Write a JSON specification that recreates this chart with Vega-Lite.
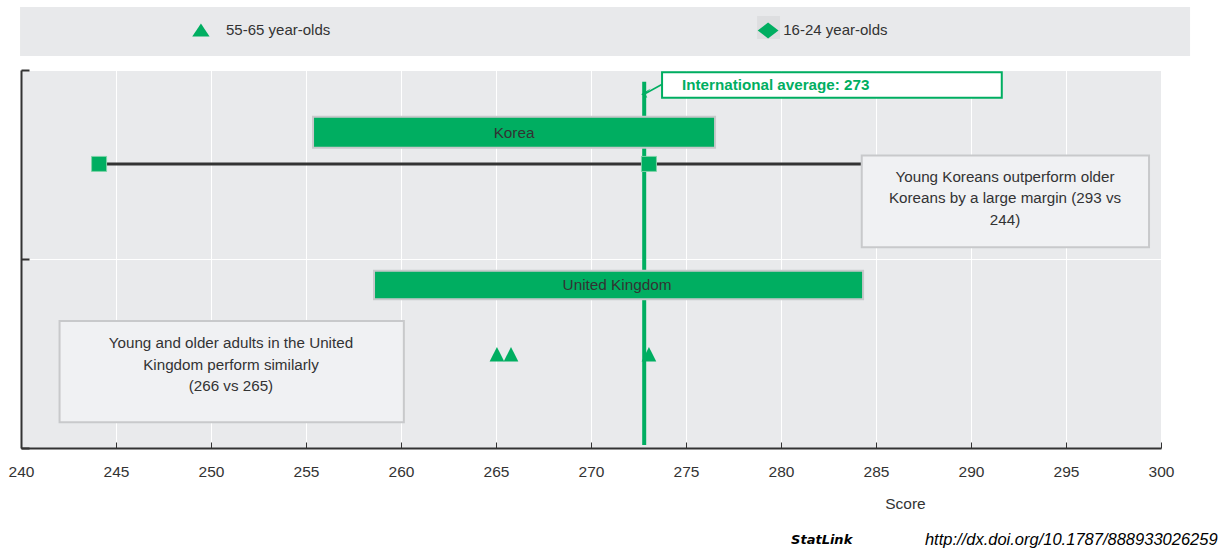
{
  "$schema": "https://vega.github.io/schema/vega-lite/v6.json",
  "width": 1140,
  "height": 378,
  "autosize": {"type": "none"},
  "padding": {"left": 21, "top": 70, "right": 61, "bottom": 103},
  "background": "white",
  "config": {
    "view": {"fill": "#E9EAEC", "stroke": null},
    "font": "Liberation Sans",
    "text": {"font": "Liberation Sans", "fontSize": 15.2, "color": "#333333"},
    "axis": {"labelFont": "Liberation Sans", "titleFont": "Liberation Sans"}
  },
  "datasets": {
    "band": [{"x1": 239.95, "x2": 301.53, "r1": -0.333, "r2": -0.074}],
    "legend": [
      {"label": "55-65 year-olds", "sx": 249.47, "lx": 250.79, "row": -0.209},
      {"label": "16-24 year-olds", "sx": 279.32, "lx": 280.12, "row": -0.209}
    ],
    "legendbg": [{"x1": 278.74, "x2": 279.95, "r1": -0.286, "r2": -0.164}],
    "avg": [{"avg": 272.8, "r1": 0.062, "r2": 1.984, "label": "International average: 273", "bx1": 273.74, "bx2": 291.62, "br1": 0.012, "br2": 0.147, "tx": 274.79, "ty": 0.079, "cx": 273.77, "cy": 0.074, "ax": 272.89, "ay": 0.123}],
    "bars": [
      {"country": "Korea", "lo": 255.37, "hi": 276.53, "r1": 0.247, "r2": 0.411, "rm": 0.332, "lx": 265.95},
      {"country": "United Kingdom", "lo": 258.58, "hi": 284.32, "r1": 1.062, "r2": 1.213, "rm": 1.140, "lx": 271.37}
    ],
    "korline": [{"from": 244.11, "to": 284.26, "row": 0.497}],
    "squares": [
      {"country": "Korea", "score": 244.11, "row": 0.497},
      {"country": "Korea", "score": 273.05, "row": 0.497}
    ],
    "triangles": [
      {"country": "United Kingdom", "score": 265.05, "row": 1.504},
      {"country": "United Kingdom", "score": 265.79, "row": 1.504},
      {"country": "United Kingdom", "score": 273.05, "row": 1.504}
    ],
    "notes": [
      {"text": "Young Koreans outperform older\nKoreans by a large margin (293 vs\n244)", "x1": 284.25, "x2": 299.37, "r1": 0.453, "r2": 0.938, "tx": 291.79, "ty": 0.5646},
      {"text": "Young and older adults in the United\nKingdom perform similarly\n(266 vs 265)", "x1": 242.03, "x2": 260.15, "r1": 1.328, "r2": 1.864, "tx": 251.05, "ty": 1.446}
    ],
    "source": [
      {"t1": "StatLink", "x1": 280.53, "t2": "http://dx.doi.org/10.1787/888933026259", "x2": 302.98, "row": 2.487}
    ]
  },
  "layer": [
    {
      "data": {"name": "band"},
      "mark": {"type": "rect", "fill": "#E8E9EB"},
      "encoding": {
        "x": {"field": "x1", "type": "quantitative", "scale": {"domain": [240, 300], "nice": false, "zero": false},
          "axis": {"values": [240, 245, 250, 255, 260, 265, 270, 275, 280, 285, 290, 295, 300], "title": "Score", "grid": true, "gridColor": "#FFFFFF", "gridWidth": 1, "gridOpacity": 1,
            "domainColor": "#333333", "domainWidth": 2, "tickColor": "#333333", "tickWidth": 1, "tickSize": -6, "labelPadding": 22,
            "labelFontSize": 15.5, "labelColor": "#333333", "titleFontSize": 15.5, "titleFontWeight": "normal", "titleColor": "#333333",
            "titleX": 884, "titleY": 55, "titleAlign": "center", "titleBaseline": "middle", "labelFlush": false}},
        "x2": {"field": "x2"},
        "y": {"field": "r1", "type": "quantitative", "scale": {"domain": [0, 2], "reverse": true, "nice": false, "zero": false},
          "axis": {"values": [0, 1, 2], "labels": false, "title": null, "grid": true, "gridColor": "#FFFFFF", "gridWidth": 1, "gridOpacity": 1,
            "domainColor": "#333333", "domainWidth": 2, "tickColor": "#333333", "tickWidth": 2, "tickSize": -8}},
        "y2": {"field": "r2"}
      }
    },
    {
      "data": {"name": "legendbg"},
      "mark": {"type": "rect", "fill": "#DDDEE0"},
      "encoding": {
        "x": {"field": "x1", "type": "quantitative", "scale": {"domain": [240, 300], "nice": false, "zero": false}},
        "x2": {"field": "x2"},
        "y": {"field": "r1", "type": "quantitative", "scale": {"domain": [0, 2], "reverse": true, "nice": false, "zero": false}},
        "y2": {"field": "r2"}
      }
    },
    {
      "data": {"name": "legend"},
      "mark": {"type": "point", "filled": true, "color": "#00AE61", "size": 300, "opacity": 1},
      "encoding": {
        "x": {"field": "sx", "type": "quantitative", "scale": {"domain": [240, 300], "nice": false, "zero": false}},
        "y": {"field": "row", "type": "quantitative", "scale": {"domain": [0, 2], "reverse": true, "nice": false, "zero": false}},
        "shape": {"field": "label", "type": "nominal", "scale": {"domain": ["55-65 year-olds", "16-24 year-olds"], "range": ["M-1,0.7L1,0.7L0,-0.8Z", "M0,-0.92L1.2,0L0,0.92L-1.2,0Z"]}, "legend": null}
      }
    },
    {
      "data": {"name": "legend"},
      "mark": {"type": "text", "align": "left", "baseline": "middle", "fontSize": 15},
      "encoding": {
        "x": {"field": "lx", "type": "quantitative", "scale": {"domain": [240, 300], "nice": false, "zero": false}},
        "y": {"field": "row", "type": "quantitative", "scale": {"domain": [0, 2], "reverse": true, "nice": false, "zero": false}},
        "text": {"field": "label"}
      }
    },
    {
      "data": {"name": "avg"},
      "mark": {"type": "rule", "color": "#00AE61", "strokeWidth": 4},
      "encoding": {
        "x": {"field": "avg", "type": "quantitative", "scale": {"domain": [240, 300], "nice": false, "zero": false}},
        "y": {"field": "r1", "type": "quantitative", "scale": {"domain": [0, 2], "reverse": true, "nice": false, "zero": false}},
        "y2": {"field": "r2"}
      }
    },
    {
      "data": {"name": "avg"},
      "mark": {"type": "rule", "color": "#00AE61", "strokeWidth": 1.5},
      "encoding": {
        "x": {"field": "cx", "type": "quantitative", "scale": {"domain": [240, 300], "nice": false, "zero": false}},
        "x2": {"field": "ax"},
        "y": {"field": "cy", "type": "quantitative", "scale": {"domain": [0, 2], "reverse": true, "nice": false, "zero": false}},
        "y2": {"field": "ay"}
      }
    },
    {
      "data": {"name": "avg"},
      "mark": {"type": "point", "shape": "M1,-1L-1,0.2L0.3,1L-0.1,0.1Z", "filled": true, "color": "#00AE61", "size": 90, "opacity": 1},
      "encoding": {
        "x": {"field": "ax", "type": "quantitative", "scale": {"domain": [240, 300], "nice": false, "zero": false}},
        "y": {"field": "ay", "type": "quantitative", "scale": {"domain": [0, 2], "reverse": true, "nice": false, "zero": false}}
      }
    },
    {
      "data": {"name": "avg"},
      "mark": {"type": "rect", "fill": "#FFFFFF", "stroke": "#00AE61", "strokeWidth": 2},
      "encoding": {
        "x": {"field": "bx1", "type": "quantitative", "scale": {"domain": [240, 300], "nice": false, "zero": false}},
        "x2": {"field": "bx2"},
        "y": {"field": "br1", "type": "quantitative", "scale": {"domain": [0, 2], "reverse": true, "nice": false, "zero": false}},
        "y2": {"field": "br2"}
      }
    },
    {
      "data": {"name": "avg"},
      "mark": {"type": "text", "align": "left", "baseline": "middle", "fontSize": 15.2, "fontWeight": "bold", "color": "#00AE61"},
      "encoding": {
        "x": {"field": "tx", "type": "quantitative", "scale": {"domain": [240, 300], "nice": false, "zero": false}},
        "y": {"field": "ty", "type": "quantitative", "scale": {"domain": [0, 2], "reverse": true, "nice": false, "zero": false}},
        "text": {"field": "label"}
      }
    },
    {
      "data": {"name": "bars"},
      "mark": {"type": "rect", "fill": "#00AE61", "stroke": "#C8C9CB", "strokeWidth": 2},
      "encoding": {
        "x": {"field": "lo", "type": "quantitative", "scale": {"domain": [240, 300], "nice": false, "zero": false}},
        "x2": {"field": "hi"},
        "y": {"field": "r1", "type": "quantitative", "scale": {"domain": [0, 2], "reverse": true, "nice": false, "zero": false}},
        "y2": {"field": "r2"}
      }
    },
    {
      "data": {"name": "bars"},
      "mark": {"type": "text", "align": "center", "baseline": "middle", "fontSize": 15.3},
      "encoding": {
        "x": {"field": "lx", "type": "quantitative", "scale": {"domain": [240, 300], "nice": false, "zero": false}},
        "y": {"field": "rm", "type": "quantitative", "scale": {"domain": [0, 2], "reverse": true, "nice": false, "zero": false}},
        "text": {"field": "country"}
      }
    },
    {
      "data": {"name": "korline"},
      "mark": {"type": "rule", "color": "#333333", "strokeWidth": 3},
      "encoding": {
        "x": {"field": "from", "type": "quantitative", "scale": {"domain": [240, 300], "nice": false, "zero": false}},
        "x2": {"field": "to"},
        "y": {"field": "row", "type": "quantitative", "scale": {"domain": [0, 2], "reverse": true, "nice": false, "zero": false}}
      }
    },
    {
      "data": {"name": "squares"},
      "mark": {"type": "square", "filled": true, "color": "#00AE61", "size": 225, "opacity": 1, "stroke": "#7FD3A8", "strokeWidth": 1},
      "encoding": {
        "x": {"field": "score", "type": "quantitative", "scale": {"domain": [240, 300], "nice": false, "zero": false}},
        "y": {"field": "row", "type": "quantitative", "scale": {"domain": [0, 2], "reverse": true, "nice": false, "zero": false}}
      }
    },
    {
      "data": {"name": "triangles"},
      "mark": {"type": "point", "shape": "M-1,1L1,1L0,-1Z", "filled": true, "color": "#00AE61", "size": 215, "opacity": 1},
      "encoding": {
        "x": {"field": "score", "type": "quantitative", "scale": {"domain": [240, 300], "nice": false, "zero": false}},
        "y": {"field": "row", "type": "quantitative", "scale": {"domain": [0, 2], "reverse": true, "nice": false, "zero": false}}
      }
    },
    {
      "data": {"name": "notes"},
      "mark": {"type": "rect", "fill": "#F0F1F3", "stroke": "#C8C9CB", "strokeWidth": 2},
      "encoding": {
        "x": {"field": "x1", "type": "quantitative", "scale": {"domain": [240, 300], "nice": false, "zero": false}},
        "x2": {"field": "x2"},
        "y": {"field": "r1", "type": "quantitative", "scale": {"domain": [0, 2], "reverse": true, "nice": false, "zero": false}},
        "y2": {"field": "r2"}
      }
    },
    {
      "data": {"name": "notes"},
      "mark": {"type": "text", "align": "center", "baseline": "middle", "fontSize": 15.2, "lineBreak": "\n", "lineHeight": 21.5},
      "encoding": {
        "x": {"field": "tx", "type": "quantitative", "scale": {"domain": [240, 300], "nice": false, "zero": false}},
        "y": {"field": "ty", "type": "quantitative", "scale": {"domain": [0, 2], "reverse": true, "nice": false, "zero": false}},
        "text": {"field": "text"}
      }
    },
    {
      "data": {"name": "source"},
      "mark": {"type": "text", "align": "left", "baseline": "middle", "fontSize": 13, "fontWeight": "bold", "fontStyle": "italic", "font": "DejaVu Sans", "color": "#000000"},
      "encoding": {
        "x": {"field": "x1", "type": "quantitative", "scale": {"domain": [240, 300], "nice": false, "zero": false}},
        "y": {"field": "row", "type": "quantitative", "scale": {"domain": [0, 2], "reverse": true, "nice": false, "zero": false}},
        "text": {"field": "t1"}
      }
    },
    {
      "data": {"name": "source"},
      "mark": {"type": "text", "align": "right", "baseline": "middle", "fontSize": 16.5, "fontStyle": "italic", "color": "#000000"},
      "encoding": {
        "x": {"field": "x2", "type": "quantitative", "scale": {"domain": [240, 300], "nice": false, "zero": false}},
        "y": {"field": "row", "type": "quantitative", "scale": {"domain": [0, 2], "reverse": true, "nice": false, "zero": false}},
        "text": {"field": "t2"}
      }
    }
  ]
}
